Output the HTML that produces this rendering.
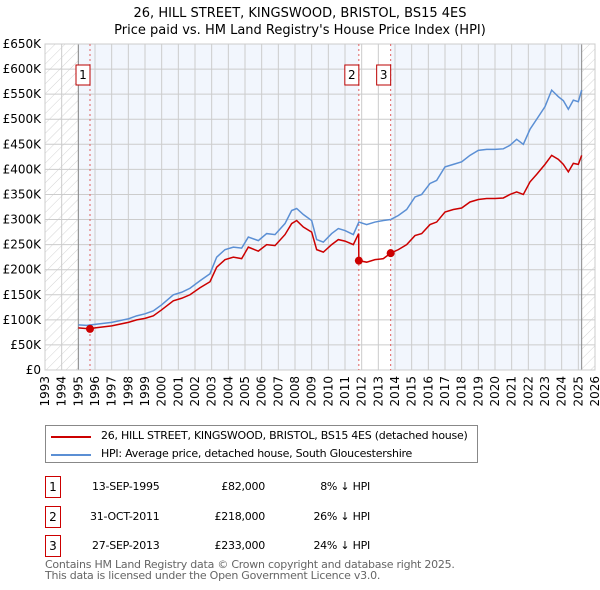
<!DOCTYPE html>
<html><head><meta charset="utf-8"><style>
body{margin:0;background:#fff;font-family:"DejaVu Sans","Liberation Sans",sans-serif;}
#wrap{position:relative;width:600px;height:590px;overflow:hidden}
.t{position:absolute;font-size:11px;transform-origin:0 0;color:#000;white-space:nowrap;letter-spacing:-0.25px}
.box{position:absolute;border:1px solid #c00;width:14px;height:20px;font-size:12px;text-align:center;line-height:20px;background:#fff}
svg text{font-family:"DejaVu Sans","Liberation Sans",sans-serif}
</style></head><body><div id="wrap">
<svg id="svg" width="600" height="420" style="position:absolute;left:0;top:0"></svg>
<div style="position:absolute;left:45px;top:425px;width:431px;height:36px;border:1px solid #888">
 <div style="position:absolute;left:5px;top:10px;width:40px;height:2px;background:#c00"></div>
 <div class="t" style="left:55px;top:3px">26, HILL STREET, KINGSWOOD, BRISTOL, BS15 4ES (detached house)</div>
 <div style="position:absolute;left:5px;top:28px;width:40px;height:2px;background:#5b8fd4"></div>
 <div class="t" style="left:55px;top:21px">HPI: Average price, detached house, South Gloucestershire</div>
</div>
<div>
 <div class="box" style="left:45px;top:476px">1</div>
 <div class="t" style="left:92px;top:480px">13-SEP-1995</div><div class="t" style="left:195px;top:480px;width:70px;text-align:right">£82,000</div><div class="t" style="left:290px;top:480px;width:80px;text-align:right">8% ↓ HPI</div>
 <div class="box" style="left:45px;top:506px">2</div>
 <div class="t" style="left:90px;top:510px">31-OCT-2011</div><div class="t" style="left:195px;top:510px;width:70px;text-align:right">£218,000</div><div class="t" style="left:290px;top:510px;width:80px;text-align:right">26% ↓ HPI</div>
 <div class="box" style="left:45px;top:535px">3</div>
 <div class="t" style="left:92px;top:539px">27-SEP-2013</div><div class="t" style="left:195px;top:539px;width:70px;text-align:right">£233,000</div><div class="t" style="left:290px;top:539px;width:80px;text-align:right">24% ↓ HPI</div>
</div>
<div class="t" style="left:45px;top:559px;color:#666;line-height:11px">Contains HM Land Registry data © Crown copyright and database right 2025.<br>This data is licensed under the Open Government Licence v3.0.</div>
</div>
<script>
const hpiDates=[1995,1995.5,1996,1997,1998,1998.5,1999,1999.5,2000,2000.7,2001.2,2001.7,2002.3,2002.9,2003.3,2003.8,2004.3,2004.8,2005.2,2005.8,2006.3,2006.8,2007.4,2007.8,2008.1,2008.5,2009.0,2009.3,2009.7,2010.2,2010.6,2011.0,2011.5,2011.83,2012.3,2012.8,2013.3,2013.74,2014.2,2014.7,2015.2,2015.6,2016.1,2016.5,2017.0,2017.5,2018.0,2018.5,2019.0,2019.5,2020.0,2020.5,2020.9,2021.3,2021.7,2022.1,2022.5,2023.0,2023.4,2023.8,2024.1,2024.4,2024.7,2025.0,2025.2];
const hpiVals=[90,89,91,95,102,108,112,118,130,150,155,163,178,192,225,240,245,243,265,258,272,270,292,318,322,310,298,260,255,272,282,278,270,295,290,295,298,300,308,320,345,350,372,378,405,410,415,428,438,440,440,441,448,460,450,480,500,525,558,545,537,520,538,535,558];
const propDates=[1995,1995.7,1996,1997,1998,1998.5,1999,1999.5,2000,2000.7,2001.2,2001.7,2002.3,2002.9,2003.3,2003.8,2004.3,2004.8,2005.2,2005.8,2006.3,2006.8,2007.4,2007.8,2008.1,2008.5,2009.0,2009.3,2009.7,2010.2,2010.6,2011.0,2011.5,2011.82,2011.83,2012.3,2012.8,2013.3,2013.74,2014.2,2014.7,2015.2,2015.6,2016.1,2016.5,2017.0,2017.5,2018.0,2018.5,2019.0,2019.5,2020.0,2020.5,2020.9,2021.3,2021.7,2022.1,2022.5,2023.0,2023.4,2023.8,2024.1,2024.4,2024.7,2025.0,2025.2];
const propVals=[84,82,84,88,95,100,103,108,120,138,143,150,164,176,205,220,225,222,245,237,250,248,270,292,298,285,275,240,235,250,260,257,250,272,218,215,220,222,233,240,250,268,272,290,295,315,320,323,335,340,342,342,343,350,355,350,375,390,410,428,420,410,395,412,410,428];
const sales=[[1995.7,82,'1'],[2011.83,218,'2'],[2013.74,233,'3']];
const yTicks=[0,50,100,150,200,250,300,350,400,450,500,550,600,650];
const xTicks=[1993,1994,1995,1996,1997,1998,1999,2000,2001,2002,2003,2004,2005,2006,2007,2008,2009,2010,2011,2012,2013,2014,2015,2016,2017,2018,2019,2020,2021,2022,2023,2024,2025,2026];
const X0=45,X1=595,Y0=370,Y1=44;
const sx=d=>X0+(d-1993)/(2026-1993)*(X1-X0);
const sy=v=>Y0-v/650*(Y0-Y1);
const NS='http://www.w3.org/2000/svg',svg=document.getElementById('svg');
function mk(tag,at,parent){const e=document.createElementNS(NS,tag);for(const k in at)e.setAttribute(k,at[k]);(parent||svg).appendChild(e);return e;}
const defs=mk('defs',{});
const pat=mk('pattern',{id:'h',width:7,height:7,patternUnits:'userSpaceOnUse',patternTransform:'rotate(45)'},defs);
mk('line',{x1:0,y1:0,x2:0,y2:7,stroke:'#d4d4d4','stroke-width':1},pat);
let t=mk('text',{x:300,y:17,'text-anchor':'middle','font-size':13});t.textContent='26, HILL STREET, KINGSWOOD, BRISTOL, BS15 4ES';

t=mk('text',{x:300,y:34,'text-anchor':'middle','font-size':13});t.textContent="Price paid vs. HM Land Registry's House Price Index (HPI)";

let r=mk('rect',{x:X0,y:Y1,width:X1-X0,height:Y0-Y1,fill:'#f2f6fd'});
mk('rect',{x:sx(2011.83),y:Y1,width:sx(2013.74)-sx(2011.83),height:Y0-Y1,fill:'#fff'});
mk('rect',{x:X0,y:Y1,width:sx(1995)-X0,height:Y0-Y1,fill:'#fff'});
mk('rect',{x:sx(2025.2),y:Y1,width:X1-sx(2025.2),height:Y0-Y1,fill:'#fff'});
mk('rect',{x:X0,y:Y1,width:sx(1995)-X0,height:Y0-Y1,fill:'url(#h)'});
mk('rect',{x:sx(2025.2),y:Y1,width:X1-sx(2025.2),height:Y0-Y1,fill:'url(#h)'});
yTicks.forEach(v=>{mk('line',{x1:X0,x2:X1,y1:sy(v),y2:sy(v),stroke:'#ccc'});
 const tt=mk('text',{x:X0-4,y:sy(v)+4,'text-anchor':'end','font-size':12});tt.textContent=v?'£'+v+'K':'£0';
 });
xTicks.forEach(d=>{mk('line',{x1:sx(d),x2:sx(d),y1:Y1,y2:Y0,stroke:'#ccc'});
 const tt=mk('text',{transform:`translate(${sx(d)+4},${Y0+6}) rotate(-90)`,'text-anchor':'end','font-size':12});tt.textContent=d;
 });
mk('line',{x1:sx(1995),x2:sx(1995),y1:Y1,y2:Y0,stroke:'#888'});
mk('line',{x1:sx(2025.2),x2:sx(2025.2),y1:Y1,y2:Y0,stroke:'#888'});
mk('rect',{x:X0,y:Y1,width:X1-X0,height:Y0-Y1,fill:'none',stroke:'#ccc'});
sales.forEach(s=>mk('line',{x1:sx(s[0]),x2:sx(s[0]),y1:Y1,y2:Y0,stroke:'#e06060','stroke-dasharray':'2,3'}));
let p=mk('polyline',{points:hpiDates.map((d,i)=>sx(d)+','+sy(hpiVals[i])).join(' '),fill:'none',stroke:'#5b8fd4','stroke-width':1.5});

p=mk('polyline',{points:propDates.map((d,i)=>sx(d)+','+sy(propVals[i])).join(' '),fill:'none',stroke:'#cc0000','stroke-width':1.5});

sales.forEach(s=>{const c=mk('circle',{cx:sx(s[0]),cy:sy(s[1]),r:4,fill:'#cc0000'});
 
 const g=mk('g',{});
 mk('rect',{x:sx(s[0])-14,y:65,width:14,height:20,fill:'#fff',stroke:'#b00'},g);
 const tt=mk('text',{x:sx(s[0])-7,y:79,'text-anchor':'middle','font-size':12},g);tt.textContent=s[2];});
</script></body></html>
